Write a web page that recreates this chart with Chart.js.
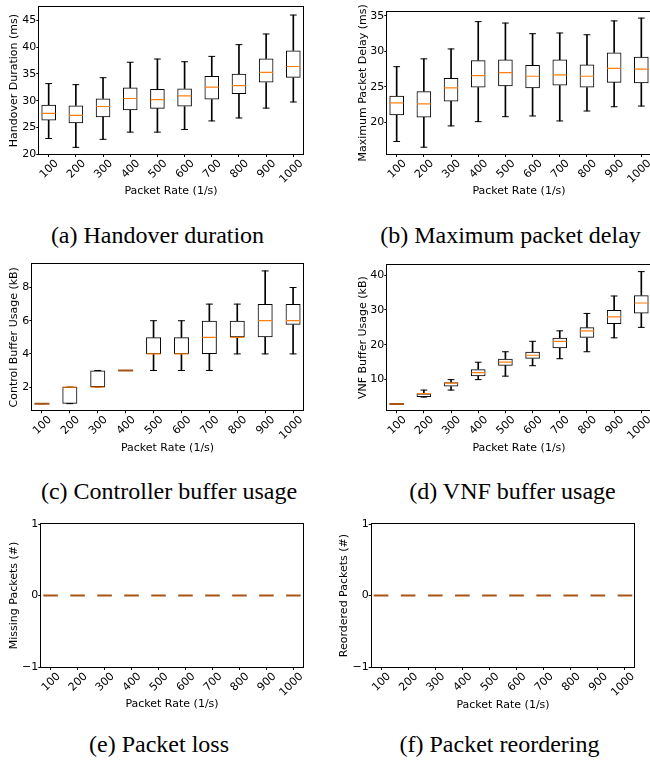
<!DOCTYPE html>
<html><head><meta charset="utf-8">
<script src="https://cdn.jsdelivr.net/npm/chart.js@4.4.1/dist/chart.umd.min.js"></script>
<style>
html,body{margin:0;padding:0;width:650px;height:764px;overflow:hidden;background:#fff;position:relative}
canvas{position:absolute}
.cap{position:absolute;width:400px;text-align:center;font-family:"Liberation Serif","Times New Roman",serif;font-size:24px;line-height:28px;color:#000;white-space:nowrap}
</style></head><body>
<script>
// ---------------- data ----------------
const categories = ['100','200','300','400','500','600','700','800','900','1000'];

// (a) Handover duration (ms)
const handoverLow  = [22.9, 21.25, 22.75, 24.1, 24.1, 24.6, 26.2, 26.75, 28.6, 29.75];
const handoverQ1   = [26.3, 25.75, 26.9, 28.2, 28.5, 28.9, 30.2, 31.25, 33.4, 34.3];
const handoverMed  = [27.6, 27.25, 28.9, 30.4, 30.2, 30.9, 32.55, 32.8, 35.3, 36.4];
const handoverQ3   = [29.25, 29.1, 30.4, 32.45, 32.2, 32.3, 34.6, 35.05, 37.9, 39.4];
const handoverHigh = [33.2, 33.0, 34.3, 37.2, 37.8, 37.3, 38.3, 40.5, 42.5, 46.05];
const handoverTicks = [20, 25, 30, 35, 40, 45];

// (b) Maximum packet delay (ms)
const delayLow  = [17.3, 16.5, 19.5, 20.1, 20.8, 20.9, 20.2, 21.6, 22.2, 22.3];
const delayQ1   = [21.0, 20.7, 22.95, 24.9, 25.1, 24.8, 25.2, 24.9, 25.6, 25.5];
const delayMed  = [22.75, 22.6, 24.85, 26.6, 27.0, 26.5, 26.7, 26.5, 27.6, 27.5];
const delayQ3   = [23.75, 24.4, 26.25, 28.75, 28.85, 28.1, 28.85, 28.15, 29.85, 29.25];
const delayHigh = [27.85, 28.95, 30.35, 34.2, 34.0, 32.5, 32.6, 32.35, 34.3, 34.7];
const delayTicks = [20, 25, 30, 35];

// (c) Controller buffer usage (kB)
const ctrlLow  = [1, 1, 2, 3, 3, 3, 3, 4, 4, 4];
const ctrlQ1   = [1, 1, 2, 3, 4, 4, 4, 5, 5, 5.75];
const ctrlMed  = [1, 2, 2, 3, 4, 4, 5, 5, 6, 6];
const ctrlQ3   = [1, 2, 3, 3, 5, 5, 6, 6, 7, 7];
const ctrlHigh = [1, 2, 3, 3, 6, 6, 7, 7, 9, 8];
const ctrlTicks = [2, 4, 6, 8];

// (d) VNF buffer usage (kB)
const vnfLow  = [3, 5, 7, 10, 11, 14, 16, 18, 22, 25];
const vnfQ1   = [3, 5, 8, 11, 14, 16, 19, 22, 26, 29];
const vnfMed  = [3, 6, 9, 12, 15, 17, 21, 24, 28, 32];
const vnfQ3   = [3, 6, 9.25, 13, 16, 18, 22, 25, 30, 34.25];
const vnfHigh = [3, 7, 10, 15, 18, 21, 24, 29, 34, 41];
const vnfTicks = [10, 20, 30, 40];

// (e) Missing packets (#)
const lossLow  = [0, 0, 0, 0, 0, 0, 0, 0, 0, 0];
const lossQ1   = [0, 0, 0, 0, 0, 0, 0, 0, 0, 0];
const lossMed  = [0, 0, 0, 0, 0, 0, 0, 0, 0, 0];
const lossQ3   = [0, 0, 0, 0, 0, 0, 0, 0, 0, 0];
const lossHigh = [0, 0, 0, 0, 0, 0, 0, 0, 0, 0];
const lossTicks = [-1, 0, 1];

// (f) Reordered packets (#)
const reorderLow  = [0, 0, 0, 0, 0, 0, 0, 0, 0, 0];
const reorderQ1   = [0, 0, 0, 0, 0, 0, 0, 0, 0, 0];
const reorderMed  = [0, 0, 0, 0, 0, 0, 0, 0, 0, 0];
const reorderQ3   = [0, 0, 0, 0, 0, 0, 0, 0, 0, 0];
const reorderHigh = [0, 0, 0, 0, 0, 0, 0, 0, 0, 0];
const reorderTicks = [-1, 0, 1];

// ---------------- styling ----------------
const ORANGE = '#ff7f0e';
const BROWN = '#a85414';
const FONT = {family: 'DejaVu Sans', size: 11};
const HALF_LH = 6.6;
Chart.defaults.color = '#000';
Chart.defaults.font.family = 'DejaVu Sans';
Chart.defaults.font.size = 11;

const framePlugin = {
  id: 'frame',
  afterDatasetsDraw(chart) {
    const {ctx, chartArea: a} = chart;
    ctx.save();
    ctx.strokeStyle = '#000';
    ctx.lineWidth = 1;
    const L = Math.round(a.left) - 0.5, R = Math.round(a.right) + 0.5;
    const T = Math.round(a.top) - 0.5, B = Math.round(a.bottom) + 0.5;
    ctx.strokeRect(L, T, R - L, B - T);
    ctx.restore();
  }
};

function fmt(v) { return v < 0 ? '\u2212' + Math.abs(v) : String(v); }

function makePanel(p) {
  const cv = document.createElement('canvas');
  cv.width = p.cw; cv.height = p.ch;
  cv.style.left = p.cx + 'px'; cv.style.top = p.cy + 'px';
  cv.style.width = p.cw + 'px'; cv.style.height = p.ch + 'px';
  document.body.appendChild(cv);

  const xs = categories.map((_, i) => i + 1);
  const pts = arr => arr.map((v, i) => ({x: xs[i], y: v}));
  const rng = (a, b) => a.map((v, i) => ({x: xs[i], y: [v, b[i]]}));
  const unitPx = (ctx, f) => {
    const s = ctx.chart.scales.x;
    return Math.abs(s.getPixelForValue(1 + f) - s.getPixelForValue(1));
  };
  const flat = p.q1.map((v, i) => v === p.q3[i]);
  const medColors = flat.map(f => f ? BROWN : ORANGE);
  const medWidths = flat.map(f => f ? 2 : 1.2);
  const capStyle = {type: 'line', showLine: false, pointStyle: 'line',
    pointRadius: ctx => unitPx(ctx, 0.125), pointBorderColor: '#000',
    pointBorderWidth: 1, pointBackgroundColor: 'rgba(0,0,0,0)'};

  const plotL = p.l - p.cx, plotT = p.t - p.cy, plotR = p.r - p.cx, plotB = p.b - p.cy;

  new Chart(cv, {
    type: 'bar',
    data: {datasets: [
      {type: 'line', data: pts(p.med), showLine: false, pointStyle: 'line',
       pointRadius: ctx => unitPx(ctx, flat[ctx.dataIndex] ? 0.27 : 0.25),
       pointBorderColor: medColors, pointBorderWidth: medWidths,
       pointBackgroundColor: 'rgba(0,0,0,0)'},
      {type: 'bar', data: rng(p.q1, p.q3), grouped: false, barPercentage: 0.537,
       categoryPercentage: 1, backgroundColor: 'rgba(0,0,0,0)', borderColor: '#000',
       borderWidth: 1, borderSkipped: false},
      Object.assign({data: pts(p.low)}, capStyle),
      Object.assign({data: pts(p.high)}, capStyle),
      {type: 'bar', data: rng(p.low, p.q1), grouped: false, barThickness: 1, backgroundColor: '#000'},
      {type: 'bar', data: rng(p.q3, p.high), grouped: false, barThickness: 1, backgroundColor: '#000'}
    ]},
    options: {
      responsive: false, animation: false, events: [],
      layout: {padding: {left: 0, top: plotT, right: p.cw - plotR, bottom: 0}},
      plugins: {legend: {display: false}, tooltip: {enabled: false}},
      scales: {
        x: {
          type: 'linear', min: 0.655, max: 10.345, offset: false, bounds: 'data',
          afterBuildTicks: s => { s.ticks = xs.map(v => ({value: v})); },
          afterFit: s => { s.height = p.ch - plotB; },
          ticks: {autoSkip: false, minRotation: 45, maxRotation: 45, labelOffset: 8,
                  padding: 0, color: '#000', font: FONT,
                  callback: (v, i) => categories[i]},
          grid: {display: true, drawOnChartArea: false, drawTicks: true, tickLength: 3,
                 tickColor: '#000', tickWidth: 1, offset: false},
          border: {display: false},
          title: {display: true, text: 'Packet Rate (1/s)', color: '#000', font: FONT,
                  padding: {top: 0, bottom: p.ch - (p.xty - p.cy) - HALF_LH}}
        },
        y: {
          type: 'linear', min: p.ymin, max: p.ymax, beginAtZero: false, bounds: 'data',
          afterBuildTicks: s => { s.ticks = p.ticks.map(v => ({value: v})); },
          afterFit: s => { s.width = plotL; },
          ticks: {padding: 0, color: '#000', font: FONT, callback: v => fmt(v)},
          grid: {display: true, drawOnChartArea: false, drawTicks: true, tickLength: 3,
                 tickColor: '#000', tickWidth: 1},
          border: {display: false},
          title: {display: true, text: p.ylabel, color: '#000', font: FONT,
                  padding: {top: (p.ytx - p.cx) - HALF_LH, bottom: 0}}
        }
      }
    },
    plugins: [framePlugin]
  });
}

function caption(text, cx, cy) {
  const d = document.createElement('div');
  d.className = 'cap';
  d.textContent = text;
  d.style.left = (cx - 200) + 'px';
  d.style.top = (cy - 16) + 'px';
  document.body.appendChild(d);
}

// ---------------- layout ----------------
makePanel({cx: 0, cy: 0, cw: 325, ch: 205, l: 39.3, t: 7.3, r: 302.7, b: 154, ytx: 13.8, xty: 191.5,
  ymin: 20, ymax: 47.5, ticks: handoverTicks, ylabel: 'Handover Duration (ms)',
  low: handoverLow, q1: handoverQ1, med: handoverMed, q3: handoverQ3, high: handoverHigh});
makePanel({cx: 330, cy: 0, cw: 340, ch: 205, l: 387.3, t: 11.7, r: 650.7, b: 154, ytx: 363, xty: 191.5,
  ymin: 15.54, ymax: 35.6, ticks: delayTicks, ylabel: 'Maximum Packet Delay (ms)',
  low: delayLow, q1: delayQ1, med: delayMed, q3: delayQ3, high: delayHigh});
makePanel({cx: 0, cy: 255, cw: 325, ch: 205, l: 32.3, t: 264.3, r: 302.7, b: 410.3, ytx: 13.8, xty: 447.8,
  ymin: 0.6, ymax: 9.4, ticks: ctrlTicks, ylabel: 'Control Buffer Usage (kB)',
  low: ctrlLow, q1: ctrlQ1, med: ctrlMed, q3: ctrlQ3, high: ctrlHigh});
makePanel({cx: 330, cy: 255, cw: 340, ch: 205, l: 387.3, t: 265, r: 650.7, b: 410.3, ytx: 363, xty: 447.8,
  ymin: 1.2, ymax: 42.9, ticks: vnfTicks, ylabel: 'VNF Buffer Usage (kB)',
  low: vnfLow, q1: vnfQ1, med: vnfMed, q3: vnfQ3, high: vnfHigh});
makePanel({cx: 0, cy: 510, cw: 325, ch: 210, l: 41.3, t: 524, r: 302.7, b: 667, ytx: 13.8, xty: 704.3,
  ymin: -1, ymax: 1, ticks: lossTicks, ylabel: 'Missing Packets (#)',
  low: lossLow, q1: lossQ1, med: lossMed, q3: lossQ3, high: lossHigh});
makePanel({cx: 330, cy: 510, cw: 320, ch: 210, l: 371.7, t: 524, r: 634.3, b: 667, ytx: 344.5, xty: 705,
  ymin: -1, ymax: 1, ticks: reorderTicks, ylabel: 'Reordered Packets (#)',
  low: reorderLow, q1: reorderQ1, med: reorderMed, q3: reorderQ3, high: reorderHigh});

caption('(a) Handover duration', 157.5, 237);
caption('(b) Maximum packet delay', 510.5, 237);
caption('(c) Controller buffer usage', 169, 493);
caption('(d) VNF buffer usage', 512.5, 493);
caption('(e) Packet loss', 159, 746);
caption('(f) Packet reordering', 499.5, 746);
</script>
</body></html>
